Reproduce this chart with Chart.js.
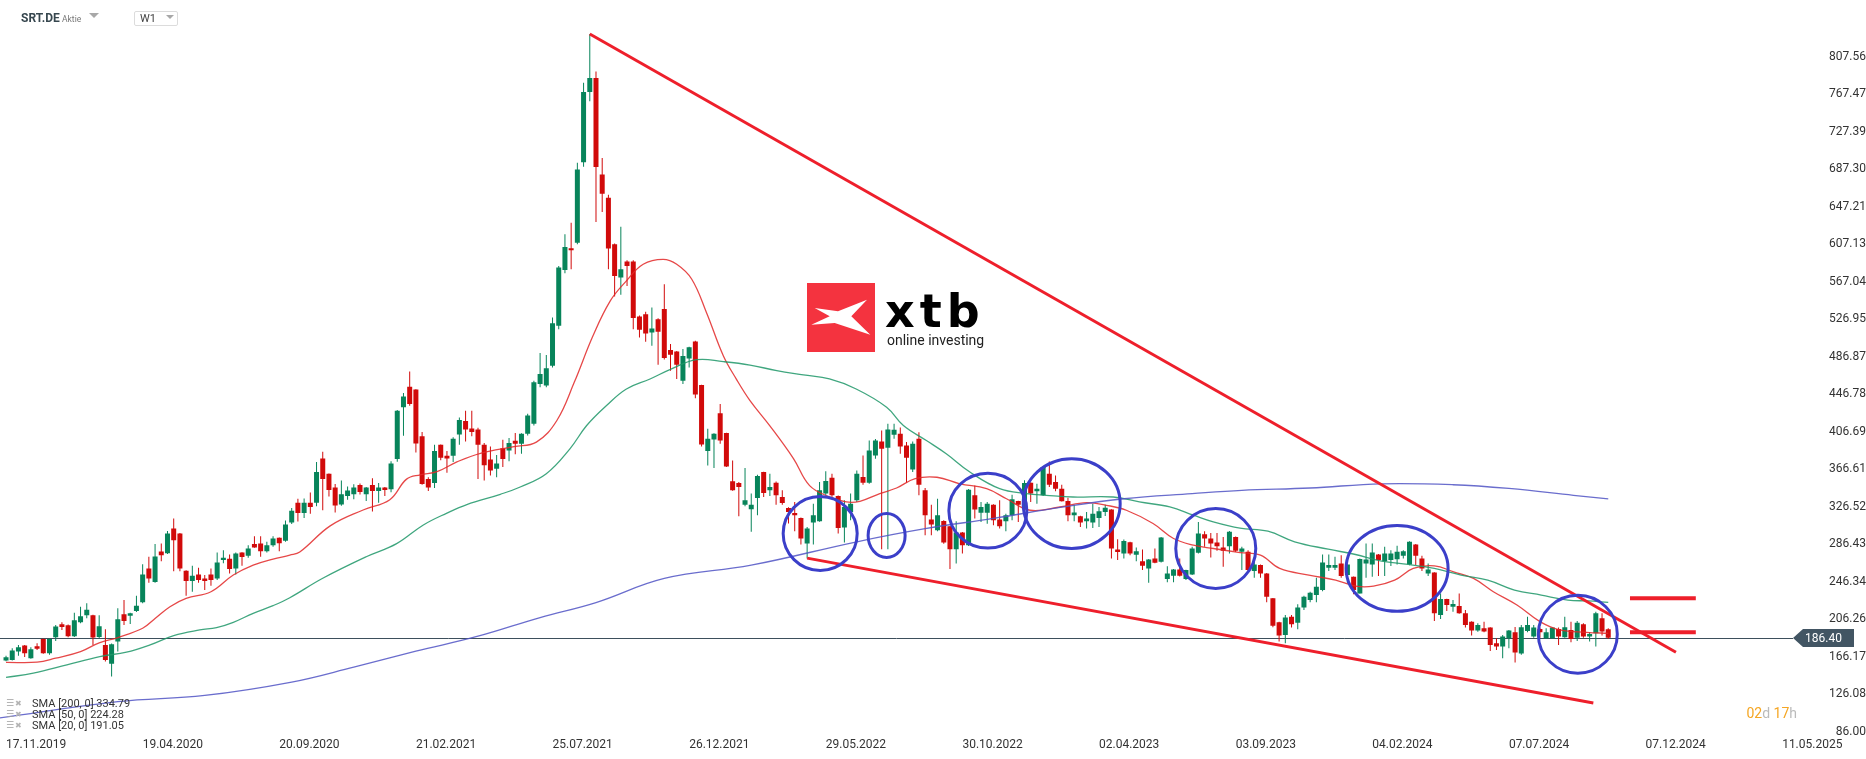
<!DOCTYPE html>
<html>
<head>
<meta charset="utf-8">
<script src="https://cdn.jsdelivr.net/npm/chart.js@4.4.1/dist/chart.umd.min.js"></script>
<style>
  html, body { margin: 0; padding: 0; background: #fff; overflow: hidden; }
  #wrap { position: relative; width: 1866px; height: 759px; font-family: Roboto, sans-serif; }
  #c { position: absolute; left: 0; top: 0; }
  .ov { position: absolute; white-space: nowrap; }
  .leg { left: 0; width: 200px; height: 11px; font-size: 11px; line-height: 11px; color: #333; }
  .leg span { position: absolute; top: 0; }
  .leg .i1 { left: 6px; font-family: 'DejaVu Sans'; font-size: 9px; color: #a0a0a0; }
  .leg .i2 { left: 15px; font-family: 'DejaVu Sans'; font-size: 8px; color: #b4b4b4; }
  .leg .t { left: 32px; }
  .tri { position: absolute; width: 0; height: 0; border-left: 5px solid transparent; border-right: 5px solid transparent; border-top: 5px solid #a8a8a8; }
</style>
</head>
<body>
<div id="wrap">
  <canvas id="c" width="1866" height="759"></canvas>

  <!-- header -->
  <div class="ov" style="left:21px; top:12px; font-size:12px; line-height:12px; font-weight:700; color:#37474f;">SRT.DE</div>
  <div class="ov" style="left:62px; top:15px; font-size:8.5px; line-height:9px; color:#777;">Aktie</div>
  <div class="tri" style="left:89px; top:13px;"></div>
  <div class="ov" style="left:134px; top:11px; width:42px; height:13px; border:1px solid #dcdcdc; border-radius:2px;"></div>
  <div class="ov" style="left:140px; top:13px; font-size:11px; line-height:11px; color:#444;">W1</div>
  <div class="tri" style="left:166px; top:15px; border-left-width:4px; border-right-width:4px; border-top-width:4px;"></div>

  <!-- logo -->
  <div class="ov" style="left:807px; top:283px; width:68px; height:69px; background:#f4333f;">
    <svg width="68" height="69" viewBox="0 0 68 69"><polygon fill="#fff" points="7.7,25 31,28.3 60,16.7 44.3,33.3 63.3,51.7 27.7,40 4.3,41.7 22.7,33.3"/></svg>
  </div>
  <div class="ov" style="left:885px; top:288px; font-family:'DejaVu Sans'; font-weight:700; font-size:46px; line-height:46px; letter-spacing:5px; color:#000;">xtb</div>
  <div class="ov" style="left:887px; top:333px; font-size:14px; line-height:14px; color:#222;">online investing</div>

  <!-- indicator legend -->
  <div class="ov leg" style="top:698px;"><span class="i1">☰</span><span class="i2">✖</span><span class="t">SMA [200, 0] 334.79</span></div>
  <div class="ov leg" style="top:709px;"><span class="i1">☰</span><span class="i2">✖</span><span class="t">SMA [50, 0] 224.28</span></div>
  <div class="ov leg" style="top:720px;"><span class="i1">☰</span><span class="i2">✖</span><span class="t">SMA [20, 0] 191.05</span></div>

  <!-- candle countdown -->
  <div class="ov" style="right:69px; top:706px; font-size:14px; line-height:14px;"><span style="color:#f5a623">02</span><span style="color:#bbb">d </span><span style="color:#f5a623">17</span><span style="color:#bbb">h</span></div>
</div>

<script>
Chart.defaults.font.family = 'Roboto';

// x axis: week index (0 = 17.11.2019), labels every 22 weeks
const weekTicks = [0, 22, 44, 66, 88, 110, 132, 154, 176, 198, 220, 242, 264, 286];
const weekLabels = ['17.11.2019', '19.04.2020', '20.09.2020', '21.02.2021', '25.07.2021', '26.12.2021', '29.05.2022',
                    '30.10.2022', '02.04.2023', '03.09.2023', '04.02.2024', '07.07.2024', '07.12.2024', '11.05.2025'];
const priceTicks = [86.00, 126.08, 166.17, 206.26, 246.34, 286.43, 326.52, 366.61, 406.69, 446.78,
                    486.87, 526.95, 567.04, 607.13, 647.21, 687.30, 727.39, 767.47, 807.56];

// weekly candles
const opens = [
  162.0,162.7,171.6,178.0,164.5,177.3,185.1,169.9,186.9,200.8,
  199.7,188.0,202.9,210.4,210.4,187.3,178.7,158.5,182.3,211.4,
  210.0,215.0,224.2,260.5,245.9,278.6,276.8,303.2,297.8,258.0,
  247.0,254.1,249.8,254.1,249.8,269.4,270.8,260.5,277.5,274.0,
  286.5,287.2,279.0,285.4,293.2,290.0,309.5,330.7,319.7,330.7,
  330.7,378.1,361.7,347.1,328.9,338.0,339.8,349.6,339.8,349.6,
  343.4,347.1,345.2,377.4,432.8,454.7,451.8,401.8,356.2,351.8,
  392.7,381.0,381.0,403.6,418.2,410.2,409.1,392.7,377.0,367.1,
  389.0,386.5,397.0,393.8,404.4,415.1,457.8,456.0,477.3,520.0,
  579.7,602.8,608.9,694.9,770.0,785.0,681.7,656.9,607.1,571.5,
  588.6,588.6,530.0,532.4,512.9,527.1,537.8,494.0,492.6,461.3,
  485.1,503.3,456.7,386.0,398.4,426.5,405.2,353.6,351.8,328.7,
  323.8,335.8,363.6,344.0,352.2,336.9,325.2,319.8,314.5,287.1,
  309.5,311.0,340.5,357.5,338.0,304.2,320.9,333.4,358.2,352.2,
  381.3,396.3,389.5,403.4,404.4,392.0,366.4,399.1,344.0,312.7,
  301.3,311.3,305.6,281.1,298.9,285.4,338.7,320.1,320.1,328.7,
  312.7,310.9,317.4,332.6,324.4,352.2,343.0,338.7,361.8,352.9,
  345.8,332.6,317.4,316.3,310.9,309.5,314.5,320.9,323.4,280.7,
  276.5,288.6,275.0,268.3,260.4,271.1,267.6,249.1,252.6,259.4,
  249.1,254.1,277.2,297.1,292.5,288.2,282.9,284.3,294.2,278.3,
  278.3,257.7,264.1,255.2,228.5,202.9,189.4,208.9,202.5,218.6,
  226.7,232.0,237.4,261.2,261.2,265.8,253.4,251.6,233.8,265.8,
  264.8,275.4,268.3,269.4,270.4,274.0,264.8,286.1,271.2,255.2,
  256.2,210.7,227.8,219.6,220.3,212.5,203.6,194.0,196.5,197.2,
  180.5,176.9,185.8,192.2,169.5,193.6,187.6,195.8,185.8,185.8,
  195.8,186.9,194.7,186.5,200.8,187.6,191.2,207.2,195.4
];
const highs = [
  167.0,175.2,178.7,178.5,176.2,180.5,185.5,185.8,200.1,202.9,
  200.5,213.2,219.6,223.2,211.0,210.4,195.4,180.2,217.8,226.7,
  213.2,231.3,265.1,273.0,286.5,287.2,300.6,313.8,298.5,258.5,
  263.3,261.2,253.4,260.5,277.5,280.0,275.4,277.5,277.8,285.4,
  295.0,295.0,288.9,295.0,293.5,311.7,325.2,335.0,335.4,341.6,
  374.4,385.4,362.0,350.7,354.4,348.0,350.5,351.4,347.5,356.9,
  351.8,347.5,375.0,430.0,448.1,471.1,452.0,406.5,358.0,392.7,
  393.0,386.0,400.7,421.9,429.1,429.1,411.0,394.5,390.8,381.7,
  398.1,400.0,405.4,405.0,425.8,461.3,490.8,488.7,528.9,584.0,
  617.8,630.2,694.2,780.0,832.0,792.0,699.5,660.0,608.0,625.9,
  590.0,590.0,531.0,534.9,539.5,528.0,564.4,500.4,493.0,495.1,
  497.5,504.0,457.0,409.8,405.0,436.4,405.5,376.0,353.0,367.8,
  340.5,360.7,364.0,361.8,353.5,344.0,326.0,331.6,315.0,304.9,
  329.8,352.9,364.3,361.8,338.5,333.4,340.5,365.3,381.3,397.3,
  399.0,408.0,415.1,415.1,411.3,395.6,396.3,406.2,346.5,328.7,
  335.1,312.0,306.0,311.0,299.5,345.5,349.3,331.6,331.6,329.2,
  333.4,319.1,339.4,333.0,354.7,352.6,351.1,370.0,374.9,360.0,
  350.1,336.2,328.7,316.8,320.9,329.8,326.2,328.7,323.8,291.8,
  291.4,288.9,282.9,280.7,270.5,281.8,294.2,262.9,259.8,271.1,
  259.0,283.6,310.2,300.3,298.5,298.5,294.2,300.6,294.6,283.6,
  280.0,267.6,264.8,255.6,229.0,203.5,210.7,210.7,222.1,231.4,
  235.6,250.5,275.4,275.4,273.0,274.7,264.8,252.0,271.2,287.2,
  287.2,275.8,283.6,280.0,284.7,280.0,289.6,286.5,274.0,265.8,
  256.5,233.8,228.2,226.7,233.8,216.0,204.0,201.8,203.6,197.5,
  185.8,189.4,194.7,197.9,200.1,208.9,200.0,197.2,196.5,197.2,
  197.2,208.9,203.6,204.3,201.8,192.2,214.3,212.5,196.5
];
const lows = [
  161.3,162.0,167.0,165.9,164.0,173.4,169.2,168.1,183.0,194.7,
  187.0,187.3,201.8,207.2,178.7,185.8,161.0,145.0,171.6,200.1,
  201.1,214.0,223.2,245.2,245.2,268.3,275.8,257.6,257.6,231.3,
  235.6,245.2,237.4,242.0,248.1,266.0,255.2,254.1,263.3,271.9,
  282.5,273.0,277.5,283.6,279.0,289.0,308.0,310.6,314.3,319.0,
  327.0,322.6,337.3,320.4,327.5,334.0,334.5,339.5,332.5,321.5,
  330.7,338.0,342.0,374.5,402.5,434.6,384.6,350.0,343.4,346.4,
  376.2,362.8,374.4,392.7,396.3,401.8,356.2,354.4,359.8,358.0,
  369.0,375.0,382.5,383.1,402.7,413.3,454.2,454.2,475.5,516.4,
  576.2,580.4,607.1,690.0,760.0,630.9,641.6,580.4,551.3,553.1,
  562.6,516.4,507.5,503.0,498.7,478.4,484.0,472.0,463.1,457.8,
  475.5,442.5,390.9,370.7,367.8,393.8,369.0,343.5,316.3,327.0,
  299.6,317.4,336.9,338.0,328.7,328.7,308.5,300.3,286.1,271.1,
  286.1,310.5,338.5,336.9,297.8,288.2,312.0,331.5,350.0,351.0,
  377.8,281.0,281.0,399.1,383.1,352.2,363.6,338.7,296.0,296.0,
  300.3,287.0,259.8,265.8,276.5,284.5,313.8,310.2,308.4,306.7,
  303.1,300.3,312.0,310.2,323.8,331.6,329.8,338.0,347.6,343.0,
  332.0,310.9,310.9,304.9,303.1,303.8,304.9,316.6,271.1,269.4,
  271.1,274.7,268.3,258.7,245.2,266.0,266.9,245.6,245.6,252.0,
  248.0,253.4,276.5,283.6,272.2,279.3,262.2,276.5,278.2,258.7,
  256.2,250.6,250.6,224.2,197.6,182.3,180.5,197.2,195.4,216.0,
  224.2,224.2,236.0,257.7,258.7,250.6,244.5,232.8,233.8,250.5,
  251.6,252.3,252.3,263.0,264.8,271.2,264.0,264.1,257.7,252.3,
  204.3,206.5,215.0,214.3,212.0,197.2,188.7,192.9,192.2,172.3,
  173.4,164.5,175.2,159.9,168.1,192.2,186.5,186.5,185.1,185.1,
  178.7,186.5,181.6,183.0,186.5,182.3,176.9,188.7,185.1
];
const closes = [
  165.6,172.7,176.2,169.9,174.1,174.5,169.9,185.1,198.3,197.9,
  188.0,205.0,209.3,216.4,186.6,198.6,162.7,179.4,206.1,204.3,
  212.5,220.7,254.1,249.8,273.3,274.7,297.8,290.7,260.5,247.0,
  252.7,248.1,247.0,248.1,266.9,271.9,259.8,276.5,272.6,281.8,
  282.9,279.0,285.4,292.5,287.5,307.4,322.3,319.7,330.7,326.3,
  363.5,356.2,344.5,327.7,339.8,343.8,347.1,342.3,347.1,343.4,
  347.1,344.5,372.6,429.1,444.4,436.4,394.1,350.7,347.1,386.1,
  378.8,378.0,399.2,419.3,409.1,406.5,392.7,370.8,365.3,372.6,
  377.4,394.5,393.8,404.4,424.0,459.5,468.4,474.5,522.8,582.2,
  604.2,600.7,687.1,770.0,785.0,689.9,661.1,602.5,573.3,580.4,
  584.0,528.2,515.7,511.8,517.1,513.6,485.5,489.1,478.4,487.6,
  496.9,446.4,393.1,399.1,404.4,397.3,369.6,344.0,347.6,333.4,
  328.7,359.3,341.2,347.6,338.7,330.5,320.9,317.4,292.5,303.1,
  317.4,344.0,354.0,338.7,303.8,326.2,329.8,361.8,352.2,386.7,
  397.3,388.4,409.1,408.7,390.9,378.8,393.8,350.1,317.4,307.4,
  317.4,288.2,281.1,298.9,285.4,344.7,323.4,326.2,329.8,312.0,
  305.6,317.4,334.4,328.7,351.8,340.5,345.8,368.9,350.1,345.8,
  332.3,317.4,320.2,309.5,313.8,319.1,321.6,325.5,281.8,278.2,
  289.9,276.5,278.9,263.3,270.1,266.5,293.5,255.1,259.4,252.6,
  258.7,281.8,297.8,292.5,287.1,284.3,279.3,299.6,279.3,281.8,
  258.7,264.8,255.2,230.3,199.3,188.7,207.9,200.8,218.6,230.3,
  234.5,241.0,266.9,264.1,264.1,252.3,264.8,237.4,270.5,270.1,
  277.6,269.4,276.5,276.5,278.3,279.0,288.9,274.0,260.5,259.4,
  212.5,227.8,221.4,222.5,212.5,200.1,194.0,200.1,193.0,178.7,
  176.9,187.6,194.0,170.5,197.6,200.1,197.2,192.2,192.2,197.2,
  187.6,197.6,185.1,202.5,187.6,190.4,212.5,193.0,186.4
];

// moving averages as [week, value]
const sma20 = [[0,160],[5,160.2],[8,164.5],[12,171.6],[15,181],[18,186.6],[22,196.5],[24,207],[26.4,219.6],[29,228.5],
  [33,235.6],[36.6,253.4],[39.8,264],[43,270.5],[45.7,274.7],[47.3,278],[52.2,306],[57.5,323],[61.8,334],[64.5,356],
  [66.7,360.6],[69.4,364],[72.6,374.4],[76.4,383.6],[81.8,390.8],[85.4,395.6],[88.7,418.7],[91.5,459.5],[94.5,509],[97.3,546.6],
  [99.9,568],[102.6,585.8],[105.8,591],[108,585.8],[110.4,570],[112.8,534],[115.5,488],[117.6,463],[119.8,440],[123,413],
  [126.8,378],[129.4,349],[132.6,337],[135.3,331.6],[137.5,332.3],[140.7,340.5],[143.4,346.5],[146.4,356.5],[149.9,358],[153.6,351],
  [157.9,345.8],[161.1,335],[164.9,322.7],[169.7,326.2],[174,330.8],[177.2,328],[180.4,322.7],[184.7,308.5],[188,292.5],[191.2,285.4],
  [194.4,281.8],[198.7,277.5],[202,274.7],[205.1,260.5],[209.8,253.4],[214.1,248],[217.3,241.6],[220.2,241.6],[223.6,248],[226.6,260.5],
  [230,263.3],[233.1,256.9],[236.3,249.8],[239.5,235.6],[243.3,221.4],[247,203.6],[250.2,194.7],[254.5,192.2],[258,191.05]];
const sma50 = [[0,143.9],[4.4,148.5],[9.8,157.4],[15.1,166.3],[19.4,170.9],[23.2,178.7],[27,188.7],[31.2,194.7],[33.9,197.2],[36.6,202.9],
  [39.8,212.5],[43,220.7],[45.7,229.2],[51,250],[58,273],[62.9,287],[67.2,307],[71,319.7],[74.2,328.8],[79.6,339.8],
  [82.8,347.6],[87,361.8],[90.8,388.4],[93.5,413.3],[96.7,434.7],[99.9,452.4],[103.7,463.1],[106.9,473.1],[111.2,483.7],[115.5,481.6],
  [119.8,478],[124.1,472],[128.4,467.4],[132.6,463.1],[136.9,452.4],[141.8,432.9],[144.5,413.3],[148.2,397.3],[151.4,383.1],[155.2,363.6],
  [160,345.8],[164.3,340.5],[167.5,338.7],[171.8,336.9],[178.3,336.9],[182.5,331.6],[187.4,326.2],[191.2,317.4],[194.4,310.2],[198.7,303.5],
  [203.2,300.3],[207.5,288.9],[212.9,281.1],[217.3,275.4],[221.5,268.3],[225.8,264.8],[230,260.5],[234.3,253.4],[238.6,248],[242.9,237.4],
  [247.2,232],[251.5,226.7],[254.7,225.7],[258,224.28]];
const sma200 = [[-1,100.6],[18,118],[32,124.7],[46,139],[56,155],[66,172],[76,188],[86,208],[95,224],[106,249.8],
  [120,264],[137,289],[148,303],[159,314],[170,326],[180,335],[191,340.5],[199,344],[210,346.5],[221.5,351],
  [233,350],[242,346],[252.4,338.7],[258,334.79]];

// drawn annotations, in [week, price]
const upperTrend = [[94, 832], [268.9, 170.9]];
const lowerTrend = [[129, 271.5], [255.6, 116.5]];
const levelHigh = [[261.5, 228.5], [272.1, 228.5]];
const levelLow = [[261.5, 192.2], [272.1, 192.2]];
const markCenters = [[131.1, 297.8], [141.8, 295.7], [158.1, 322.3], [171.6, 329.8], [194.8, 281.8], [224.0, 260.5], [253.1, 190.1]];
const markRadii = [[5.96, 39.5], [2.98, 23.5], [6.28, 40], [7.81, 48], [6.44, 42.7], [8.21, 45.9], [6.36, 41.6]];

const lastPrice = closes[closes.length - 1];
const UP = '#07845a', DOWN = '#d10a0a';
const candleColors = opens.map((o, i) => closes[i] >= o ? UP : DOWN);
const pts = arr => arr.map(p => ({x: p[0], y: p[1]}));

const priceLine = {
  id: 'priceLine',
  beforeDatasetsDraw(chart) {
    const {ctx, chartArea: a, scales: {y}} = chart;
    const py = Math.round(y.getPixelForValue(lastPrice)) + 0.5;
    ctx.save();
    ctx.strokeStyle = '#3d4f5c';
    ctx.lineWidth = 1;
    ctx.beginPath();
    ctx.moveTo(a.left, py);
    ctx.lineTo(a.right, py);
    ctx.stroke();
    ctx.restore();
  },
  afterDraw(chart) {
    const {ctx, chartArea: a, scales: {y}} = chart;
    const py = Math.round(y.getPixelForValue(lastPrice));
    ctx.save();
    ctx.fillStyle = '#425563';
    ctx.beginPath();
    ctx.moveTo(a.right, py);
    ctx.lineTo(a.right + 10, py - 9);
    ctx.lineTo(a.right + 61, py - 9);
    ctx.lineTo(a.right + 61, py + 9);
    ctx.lineTo(a.right + 10, py + 9);
    ctx.closePath();
    ctx.fill();
    ctx.fillStyle = '#fff';
    ctx.font = '12px Roboto';
    ctx.textAlign = 'right';
    ctx.textBaseline = 'middle';
    ctx.fillText(lastPrice.toFixed(2), a.right + 49, py + 1);
    ctx.restore();
  }
};

const marks = {
  id: 'marks',
  afterDatasetsDraw(chart) {
    const {ctx, scales: {x, y}} = chart;
    ctx.save();
    ctx.strokeStyle = '#3b3fc9';
    ctx.lineWidth = 3;
    markCenters.forEach((c, i) => {
      const cx = x.getPixelForValue(c[0]);
      const cy = y.getPixelForValue(c[1]);
      const rx = Math.abs(x.getPixelForValue(c[0] + markRadii[i][0]) - cx);
      const ry = Math.abs(y.getPixelForValue(c[1] + markRadii[i][1]) - cy);
      ctx.beginPath();
      ctx.ellipse(cx, cy, rx, ry, 0, 0, Math.PI * 2);
      ctx.stroke();
    });
    ctx.restore();
  }
};

const lineSet = (data, color, width, extra) => Object.assign({
  type: 'line', data: pts(data), borderColor: color, borderWidth: width, pointRadius: 0, fill: false
}, extra);

new Chart(document.getElementById('c'), {
  type: 'bar',
  data: {
    datasets: [
      lineSet(upperTrend, '#ee1f2b', 3, {order: 0}),
      lineSet(lowerTrend, '#ee1f2b', 3, {order: 0}),
      lineSet(levelHigh, '#ee1f2b', 4, {order: 0}),
      lineSet(levelLow, '#ee1f2b', 4, {order: 0}),
      lineSet(sma200, 'rgba(80,84,196,0.85)', 1.3, {order: 1, tension: 0.4}),
      lineSet(sma50, 'rgba(30,150,105,0.85)', 1.3, {order: 1, tension: 0.4}),
      lineSet(sma20, 'rgba(226,40,40,0.85)', 1.3, {order: 1, tension: 0.4}),
      {
        type: 'bar',
        data: opens.map((o, i) => ({x: i, y: [o, closes[i]]})),
        backgroundColor: candleColors,
        barThickness: 5,
        minBarLength: 1,
        grouped: false,
        inflateAmount: 0,
        order: 2
      },
      {
        type: 'bar',
        data: lows.map((l, i) => ({x: i, y: [l, highs[i]]})),
        backgroundColor: candleColors,
        barThickness: 1,
        grouped: false,
        inflateAmount: 0,
        order: 3
      }
    ]
  },
  options: {
    responsive: false,
    animation: false,
    devicePixelRatio: 1,
    layout: { padding: { left: 0, right: 0, top: 0, bottom: 5 } },
    plugins: { legend: { display: false }, tooltip: { enabled: false } },
    scales: {
      x: {
        type: 'linear',
        position: 'bottom',
        offset: false,
        min: -0.97,
        max: 287.75,
        grid: { display: false, drawTicks: false },
        border: { display: false },
        afterBuildTicks: s => { s.ticks = weekTicks.map(v => ({value: v})); },
        ticks: {
          align: 'start', autoSkip: false, maxRotation: 0, padding: 2,
          color: '#333', font: { size: 12 },
          callback: (v, i) => weekLabels[i]
        }
      },
      y: {
        type: 'linear',
        position: 'right',
        min: 81.73,
        max: 868.37,
        grid: { display: false, drawTicks: false },
        border: { display: false },
        afterBuildTicks: s => { s.ticks = priceTicks.map(v => ({value: v})); },
        afterFit: s => { s.width = 73; s.paddingTop = 0; s.paddingBottom = 0; },
        ticks: {
          crossAlign: 'far', padding: 13,
          color: '#333', font: { size: 12 },
          callback: v => v.toFixed(2)
        }
      }
    }
  },
  plugins: [priceLine, marks]
});
</script>
</body>
</html>
